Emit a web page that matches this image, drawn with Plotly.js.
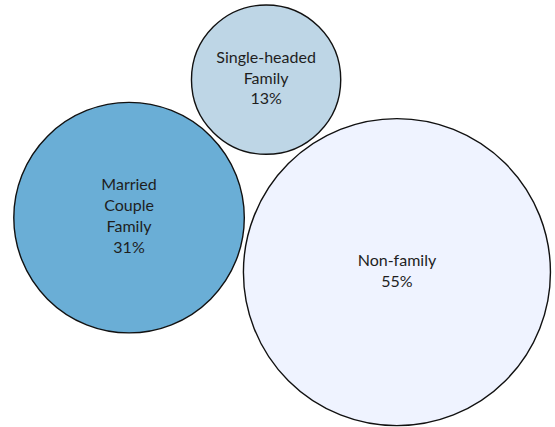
<!DOCTYPE html>
<html>
<head>
<meta charset="utf-8">
<script src="https://cdn.plot.ly/plotly-3.0.1.min.js"></script>
<style>html,body{margin:0;padding:0;background:#fff;}#chart{width:555px;height:427px;}</style>
</head>
<body>
<div id="chart"></div>
<script>
// Data
const categories = ["Married<br>Couple<br>Family", "Non-family", "Single-headed<br>Family"];
const shares = [31, 55, 13];
const colors = ["#6aaed6", "#eff3ff", "#bed6e6"];

// Layout constants for circle packing (pixels, 1:1 with axes)
const W = 555, H = 427;
const pxPerRoot = 20.7;     // px per sqrt(%)
const gap = 4.6;            // gap between circles
const orient = 11.5 * Math.PI / 180; // orientation of first pair
const packLeft = 13.8, packTop = 5.0;

// Radii from area-proportional values
const radii = shares.map(v => pxPerRoot * Math.sqrt(v));
// Pack 3 circles: A, B tangent; C tangent to both (upper side)
const dAB = radii[0] + radii[1] + gap, dAC = radii[0] + radii[2] + gap, dBC = radii[1] + radii[2] + gap;
const cosA = (dAB*dAB + dAC*dAC - dBC*dBC) / (2*dAB*dAC);
const alpha = Math.acos(cosA);
let cx = [0, dAB*Math.cos(orient), dAC*Math.cos(orient - alpha)];
let cy = [0, dAB*Math.sin(orient), dAC*Math.sin(orient - alpha)];
const minX = Math.min(...cx.map((x,i)=>x - radii[i]));
const minY = Math.min(...cy.map((y,i)=>y - radii[i]));
cx = cx.map(x => x - minX + packLeft);
cy = cy.map(y => y - minY + packTop);

const shapes = shares.map((v,i) => ({
  type: "circle", xref: "x", yref: "y",
  x0: cx[i] - radii[i], x1: cx[i] + radii[i],
  y0: cy[i] - radii[i], y1: cy[i] + radii[i],
  fillcolor: colors[i], line: {color: "#111", width: 1.4}, layer: "below"
}));

const trace = {
  type: "scatter", mode: "text",
  x: cx, y: cy,
  text: categories.map((c,i) => c + "<br>" + shares[i] + "%"),
  textposition: "middle center",
  textfont: {family: "Lato, 'Open Sans', sans-serif", size: 16, color: "#1e1e1e"},
  hoverinfo: "skip", showlegend: false
};

const layout = {
  width: W, height: H,
  margin: {l:0, r:0, t:0, b:0},
  paper_bgcolor: "#fff", plot_bgcolor: "#fff",
  xaxis: {range: [0, W], visible: false, fixedrange: true},
  yaxis: {range: [H, 0], visible: false, fixedrange: true},
  shapes: shapes, showlegend: false
};

Plotly.newPlot("chart", [trace], layout, {staticPlot: true, displayModeBar: false});
</script>
</body>
</html>
